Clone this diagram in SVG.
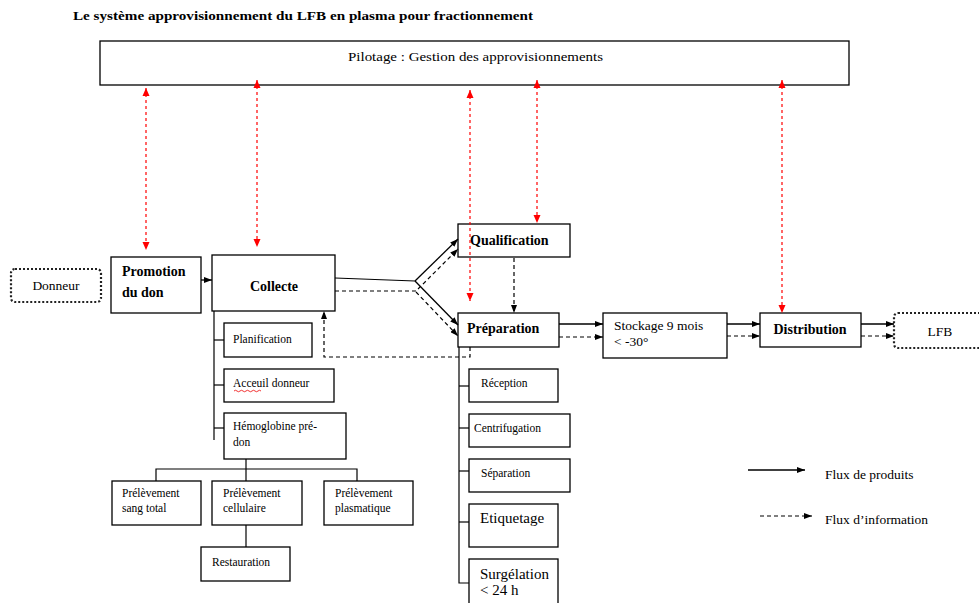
<svg xmlns="http://www.w3.org/2000/svg" width="979" height="603" viewBox="0 0 979 603" font-family="'Liberation Serif', serif">
<style>
text{font-family:'Liberation Serif','Times New Roman',serif;fill:#000}
.b{fill:#fff;stroke:#000;stroke-width:1.3}
.d{fill:#fff;stroke:#222;stroke-width:2.2;stroke-dasharray:2,2}
.bt{font-weight:bold;font-size:14px}
.s{font-size:11.5px}
.m{font-size:13.5px}
.ln{fill:none;stroke:#000;stroke-width:1.2}
.sol{fill:none;stroke:#000;stroke-width:1.3;marker-end:url(#ah)}
.das{fill:none;stroke:#000;stroke-width:1.2;stroke-dasharray:4,3;marker-end:url(#ah)}
.red{fill:none;stroke:#f00;stroke-width:1.2;stroke-dasharray:3,3;marker-start:url(#rh);marker-end:url(#rh)}
</style>
<defs>
<marker id="ah" viewBox="0 0 8 6" refX="8" refY="3" markerWidth="8" markerHeight="6" markerUnits="userSpaceOnUse" orient="auto-start-reverse"><path d="M0,0 L8,3 L0,6 z" fill="#000"/></marker>
<marker id="rh" viewBox="0 0 8 8" refX="8" refY="4" markerWidth="8" markerHeight="8" markerUnits="userSpaceOnUse" orient="auto-start-reverse"><path d="M0,0.5 L8,4 L0,7.5 z" fill="#f00"/></marker>
</defs>
<rect width="979" height="603" fill="#fff"/>
<text x="73" y="20" font-size="12.5" font-weight="bold" textLength="460" lengthAdjust="spacingAndGlyphs">Le système approvisionnement du LFB en plasma pour fractionnement</text>

<g id="pilotage"><rect class="b" x="100" y="41" width="749" height="44"/><text x="348" y="61" class="m" textLength="255" lengthAdjust="spacingAndGlyphs">Pilotage : Gestion des approvisionnements</text></g>
<g id="donneur"><rect class="d" x="11" y="269" width="90" height="33" rx="4"/><text x="56" y="290" class="m" text-anchor="middle">Donneur</text></g>
<g id="promotion"><rect class="b" x="111" y="257" width="90" height="56"/><text x="122" y="276" class="bt">Promotion</text><text x="122" y="297" class="bt">du don</text></g>
<g id="collecte"><rect class="b" x="212" y="255" width="123" height="56"/><text x="274" y="291" class="bt" text-anchor="middle">Collecte</text></g>
<g id="planification"><rect class="b" x="224" y="323" width="88" height="34"/><text x="233" y="343" class="s">Planification</text></g>
<g id="acceuil"><rect class="b" x="224" y="369" width="110" height="33"/><text x="233" y="387" class="s">Acceuil donneur</text><path d="M234,391 q1.5,-1.5 3,0 t3,0 t3,0 t3,0 t3,0 t3,0 t3,0 t3,0 t3,0" fill="none" stroke="#e00" stroke-width="0.8"/></g>
<g id="hemoglobine"><rect class="b" x="224" y="413" width="122" height="46"/><text x="233" y="430" class="s">Hémoglobine pré-</text><text x="233" y="446" class="s">don</text></g>
<g id="sangtotal"><rect class="b" x="112" y="481" width="89" height="44"/><text x="122" y="497" class="s">Prélèvement</text><text x="122" y="512" class="s">sang total</text></g>
<g id="cellulaire"><rect class="b" x="212" y="481" width="90" height="44"/><text x="223" y="497" class="s">Prélèvement</text><text x="223" y="512" class="s">cellulaire</text></g>
<g id="plasmatique"><rect class="b" x="324" y="481" width="89" height="44"/><text x="335" y="497" class="s">Prélèvement</text><text x="335" y="512" class="s">plasmatique</text></g>
<g id="restauration"><rect class="b" x="201" y="547" width="89" height="34"/><text x="212" y="566" class="s">Restauration</text></g>
<g id="qualification"><rect class="b" x="458" y="224" width="112" height="33"/><text x="470" y="245" class="bt">Qualification</text></g>
<g id="preparation"><rect class="b" x="458" y="313" width="101" height="34"/><text x="467" y="333" class="bt">Préparation</text></g>
<g id="reception"><rect class="b" x="469" y="369" width="89" height="33"/><text x="481" y="387" class="s">Réception</text></g>
<g id="centrifugation"><rect class="b" x="469" y="414" width="101" height="33"/><text x="474" y="432" class="s">Centrifugation</text></g>
<g id="separation"><rect class="b" x="469" y="459" width="101" height="33"/><text x="481" y="477" class="s">Séparation</text></g>
<g id="etiquetage"><rect class="b" x="469" y="504" width="89" height="43"/><text x="480" y="523" font-size="15">Etiquetage</text></g>
<g id="surgelation"><rect class="b" x="469" y="559" width="89" height="50"/><text x="480" y="579" font-size="15">Surgélation</text><text x="480" y="595" font-size="15">&lt; 24 h</text></g>
<g id="stockage"><rect class="b" x="603" y="313" width="124" height="45"/><text x="614" y="330" class="m">Stockage 9 mois</text><text x="614" y="346" class="m">&lt; -30°</text></g>
<g id="distribution"><rect class="b" x="760" y="313" width="101" height="34"/><text x="810" y="334" class="bt" text-anchor="middle">Distribution</text></g>
<g id="lfb"><rect class="d" x="894" y="313" width="95" height="35" rx="4"/><text x="940" y="336" class="m" text-anchor="middle">LFB</text></g>

<g id="connectors">
<line class="red" x1="146" y1="88" x2="146" y2="250"/>
<line class="red" x1="257" y1="80" x2="257" y2="247"/>
<line class="red" x1="470" y1="90" x2="470" y2="301"/>
<line class="red" x1="537" y1="80" x2="537" y2="223"/>
<line class="red" x1="782" y1="80" x2="782" y2="313"/>

<line class="sol" x1="201" y1="280" x2="212" y2="280"/>
<polyline class="ln" points="335,278 415,281"/>
<line class="sol" x1="415" y1="281" x2="458" y2="239"/>
<line class="sol" x1="415" y1="281" x2="458" y2="325"/>
<polyline class="ln" points="335,291 416,291" stroke-dasharray="4,3"/>
<line class="das" x1="418" y1="289" x2="458" y2="249"/>
<line class="das" x1="416" y1="292" x2="458" y2="336"/>
<line class="das" x1="514" y1="258" x2="514" y2="313"/>
<polyline class="das" points="470,347 470,357 324,357 324,311"/>

<polyline class="ln" points="214,311 214,440"/>
<line class="ln" x1="214" y1="340" x2="224" y2="340"/>
<line class="ln" x1="214" y1="385" x2="224" y2="385"/>
<line class="ln" x1="214" y1="428" x2="224" y2="428"/>
<line class="ln" x1="246" y1="459" x2="246" y2="481"/>
<polyline class="ln" points="156,481 156,469 357,469 357,481"/>
<line class="ln" x1="246" y1="525" x2="246" y2="547"/>

<polyline class="ln" points="459,347 459,583 469,583"/>
<line class="ln" x1="459" y1="386" x2="469" y2="386"/>
<line class="ln" x1="459" y1="428" x2="469" y2="428"/>
<line class="ln" x1="459" y1="471" x2="469" y2="471"/>
<line class="ln" x1="459" y1="522" x2="469" y2="522"/>

<line class="sol" x1="559" y1="324" x2="603" y2="324"/>
<line class="das" x1="559" y1="337" x2="603" y2="337"/>
<line class="sol" x1="727" y1="324" x2="760" y2="324"/>
<line class="das" x1="727" y1="336" x2="760" y2="336"/>
<line class="sol" x1="861" y1="324" x2="894" y2="324"/>
<line class="das" x1="861" y1="336" x2="894" y2="336"/>
</g>

<g id="legend">
<line class="sol" x1="748" y1="470" x2="805" y2="470"/>
<text x="825" y="479" class="m">Flux de produits</text>
<line class="das" x1="760" y1="516" x2="812" y2="516"/>
<text x="825" y="524" class="m">Flux d’information</text>
</g>
</svg>
